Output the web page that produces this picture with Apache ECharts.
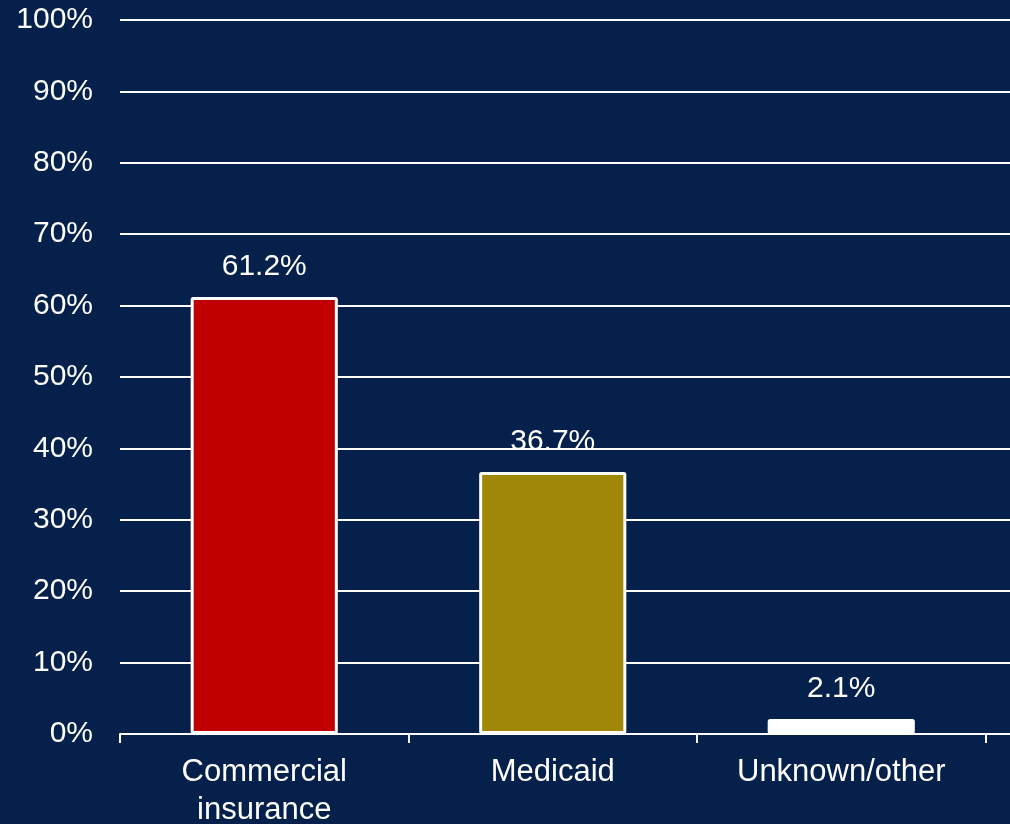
<!DOCTYPE html>
<html>
<head>
<meta charset="utf-8">
<script src="https://cdn.jsdelivr.net/npm/echarts@6/dist/echarts.min.js"></script>
<style>
  html, body { margin: 0; padding: 0; background: #05204A; }
  #chart { width: 1010px; height: 824px; }
</style>
</head>
<body>
<div id="chart"></div>
<script>
// Payer mix shares (percent of total)
const categories = ['Commercial\ninsurance', 'Medicaid', 'Unknown/other'];
const shares = [61.2, 36.7, 2.1];
const barColors = ['#C00000', '#A08708', '#FFFFFF'];
const yTicks = [0, 10, 20, 30, 40, 50, 60, 70, 80, 90, 100];

const FONT = '"Liberation Sans", Arial, sans-serif';

const chart = echarts.init(document.getElementById('chart'), null, { renderer: 'canvas' });

chart.setOption({
  backgroundColor: '#05204A',
  animation: false,
  // plot runs past the right edge of the canvas: one spare band after the last category
  grid: {
    left: 120, width: 1154, top: 20, bottom: 90,
    containLabel: false,
    outerBoundsMode: 'none'
  },
  xAxis: {
    type: 'category',
    data: categories,
    max: categories.length,
    boundaryGap: true,
    axisLine: { show: true, lineStyle: { color: '#FFFFFF', width: 2 } },
    axisTick: { show: true, length: 9, alignWithLabel: false, lineStyle: { color: '#FFFFFF', width: 2 } },
    axisLabel: {
      color: '#FFFFFF',
      fontFamily: FONT,
      fontSize: 31,
      lineHeight: 38,
      margin: 19,
      interval: 0,
      formatter: (v, i) => (i < categories.length ? v : '')
    },
    splitLine: { show: false }
  },
  yAxis: {
    type: 'value',
    min: yTicks[0],
    max: yTicks[yTicks.length - 1],
    interval: yTicks[1] - yTicks[0],
    axisLine: { show: false },
    axisTick: { show: false },
    axisLabel: {
      color: '#FFFFFF',
      fontFamily: FONT,
      fontSize: 30,
      margin: 27,
      padding: [10, 0, 0, 0],
      formatter: v => v + '%'
    },
    splitLine: { show: true, lineStyle: { color: '#FFFFFF', width: 2 } }
  },
  series: [{
    type: 'bar',
    barWidth: '51%',
    data: shares.map((v, i) => ({
      value: v,
      itemStyle: { color: barColors[i], borderColor: '#FFFFFF', borderWidth: 3, borderRadius: 1 }
    })),
    label: {
      show: true,
      position: 'top',
      distance: 15,
      color: '#FFFFFF',
      fontFamily: FONT,
      fontSize: 30,
      formatter: p => p.value.toFixed(1) + '%'
    }
  }]
});
</script>
</body>
</html>
